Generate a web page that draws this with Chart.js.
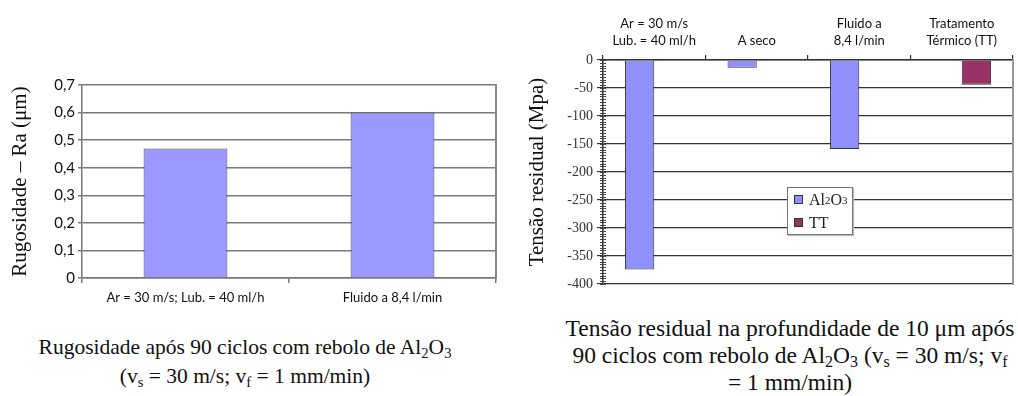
<!DOCTYPE html>
<html>
<head>
<meta charset="utf-8">
<script src="https://cdn.jsdelivr.net/npm/chart.js@4.4.1/dist/chart.umd.min.js"></script>
<style>
  body { margin: 0; background: #fff; width: 1018px; height: 396px; overflow: hidden; position: relative; }
  .box { position: absolute; }
  .caption { position: absolute; font-family: "Liberation Serif", "Times New Roman", serif; color: #111; text-align: center; }
  .caption sub { font-size: 0.68em; vertical-align: -4px; line-height: 0; }
  #legend { position: absolute; left: 787px; top: 187px; width: 64px; height: 46px; border: 1px solid #777; background: #fff;
            font-family: "Liberation Serif", serif; font-size: 16px; color: #222; box-shadow: 1px 1px 1px #bbb; }
  #legend .item { display: flex; align-items: center; height: 23px; padding-left: 6px; }
  #legend .sw { width: 7px; height: 7px; border: 1px solid #333; margin-right: 6px; }
  #legend sub { font-size: 11px; vertical-align: -3px; line-height: 0; }
</style>
</head>
<body>
<div class="box" style="left:0;top:0;"><canvas id="rugosidade" width="510" height="320"></canvas></div>
<div class="box" style="left:520px;top:0;"><canvas id="tensao" width="498" height="300"></canvas></div>
<div id="legend"></div>

<div class="caption" style="left:10px;top:333px;width:470px;font-size:21.5px;line-height:29px;">
  Rugosidade após 90 ciclos com rebolo de Al<sub>2</sub>O<sub>3</sub><br>(v<sub>s</sub> = 30 m/s; v<sub>f</sub> = 1 mm/min)
</div>
<div class="caption" style="left:548px;top:315px;width:484px;font-size:23.5px;line-height:27px;">
  Tensão residual na profundidade de 10 μm após<br>90 ciclos com rebolo de Al<sub>2</sub>O<sub>3</sub> (v<sub>s</sub> = 30 m/s; v<sub>f</sub><br>= 1 mm/min)
</div>

<script>
// Rugosidade Ra (µm) por condição de lubrificação
const roughCategories = ['Ar = 30 m/s; Lub. = 40 ml/h', 'Fluido a 8,4 l/min'];
const roughValues = [0.47, 0.60];

// Tensão residual (MPa) a 10 µm de profundidade
const stressCategories = [['Ar = 30 m/s', 'Lub. = 40 ml/h'], 'A seco', ['Fluido a', '8,4 l/min'], ['Tratamento', 'Térmico (TT)']];
const stressAl2O3 = [-374, -14, -159, null];
const stressTT = [null, null, null, -44];
const stressSeriesNames = ['Al2O3', 'TT'];

const sansFont = 'Lato, "Open Sans", sans-serif';
const serifFont = '"Liberation Serif", "Times New Roman", serif';

// borda direita da área do gráfico, sem rótulos
function rightFrame(color, width) {
  return {
    position: 'right',
    min: 0, max: 1,
    grid: { drawOnChartArea: false, drawTicks: false },
    ticks: { display: false },
    border: { display: true, color: color, width: width },
    afterFit(scale) { scale.width = 0; }
  };
}

new Chart(document.getElementById('rugosidade'), {
  type: 'bar',
  data: {
    labels: roughCategories,
    datasets: [{
      data: roughValues,
      backgroundColor: '#9999ff',
      borderColor: '#444',
      borderWidth: 1,
      categoryPercentage: 0.81,
      barPercentage: 0.5
    }]
  },
  options: {
    responsive: false,
    animation: false,
    layout: { padding: { top: 85, right: 14, left: 0, bottom: 0 } },
    plugins: { legend: { display: false }, tooltip: { enabled: false } },
    scales: {
      x: {
        grid: { offset: true, drawOnChartArea: false, tickLength: 5, color: '#777', lineWidth: 1.5 },
        border: { color: '#777', width: 1.5 },
        ticks: { color: '#111', font: { family: sansFont, size: 13 }, padding: 7, maxRotation: 0 },
        afterFit(scale) { scale.height = 42; }
      },
      y: {
        min: 0, max: 0.7,
        ticks: {
          stepSize: 0.1, color: '#111', padding: 3,
          font: { family: sansFont, size: 15 },
          callback: v => v === 0 ? '0' : v.toFixed(1).replace('.', ',')
        },
        grid: { color: '#7a7a7a', lineWidth: 1.5, tickLength: 4 },
        border: { color: '#777', width: 1.5 },
        title: {
          display: true, text: 'Rugosidade – Ra (μm)', color: '#111',
          font: { family: serifFont, size: 21 }, padding: { top: 8, bottom: 0 }
        },
        afterFit(scale) { scale.width = 82; }
      },
      y2: rightFrame('#888', 2)
    }
  }
});

// marcas menores a cada 5 MPa no eixo vertical
const minorStep = 5;
const minorTicks = {
  id: 'minorTicks',
  afterDatasetsDraw(chart) {
    const y = chart.scales.y;
    const ctx = chart.ctx;
    ctx.save();
    ctx.strokeStyle = '#444';
    ctx.lineWidth = 1;
    ctx.beginPath();
    for (let v = y.min; v <= y.max; v += minorStep) {
      const py = Math.round(y.getPixelForValue(v)) + 0.5;
      ctx.moveTo(y.right - 3, py);
      ctx.lineTo(y.right + 3, py);
    }
    ctx.stroke();
    ctx.restore();
  }
};

const stressChart = new Chart(document.getElementById('tensao'), {
  type: 'bar',
  data: {
    labels: stressCategories,
    datasets: [
      { label: stressSeriesNames[0], data: stressAl2O3, backgroundColor: '#9090fa', borderColor: '#333', borderWidth: 1 },
      { label: stressSeriesNames[1], data: stressTT, backgroundColor: '#993366', borderColor: '#333', borderWidth: 1 }
    ]
  },
  options: {
    responsive: false,
    animation: false,
    datasets: { bar: { categoryPercentage: 0.57, barPercentage: 1 } },
    layout: { padding: { top: 0, right: 5, left: 0, bottom: 16 } },
    plugins: { legend: { display: false }, tooltip: { enabled: false } },
    scales: {
      x: {
        position: 'top',
        grid: { offset: true, drawOnChartArea: false, tickLength: 5, color: '#333', lineWidth: 1.2 },
        border: { color: '#333', width: 1.5 },
        ticks: { color: '#111', font: { family: sansFont, size: 13, lineHeight: 1.35 }, padding: 5, maxRotation: 0 },
        afterFit(scale) { scale.height = 60; }
      },
      y: {
        min: -400, max: 0,
        ticks: { stepSize: 50, color: '#333', padding: 4, font: { family: serifFont, size: 14 } },
        grid: { color: '#333', lineWidth: 1.2, tickLength: 6 },
        border: { color: '#333', width: 1.5 },
        title: {
          display: true, text: 'Tensão residual (Mpa)', color: '#111',
          font: { family: serifFont, size: 21 }, padding: { top: 5, bottom: 0 }
        },
        afterFit(scale) { scale.width = 83; }
      },
      y2: rightFrame('#999', 2)
    }
  },
  plugins: [minorTicks]
});

// legenda HTML a partir das séries
document.getElementById('legend').innerHTML = stressChart.data.datasets.map(ds =>
  '<div class="item"><span class="sw" style="background:' + ds.backgroundColor + '"></span>' +
  ds.label.replace(/(\d)/g, '<sub>$1</sub>') + '</div>'
).join('');
</script>
</body>
</html>
